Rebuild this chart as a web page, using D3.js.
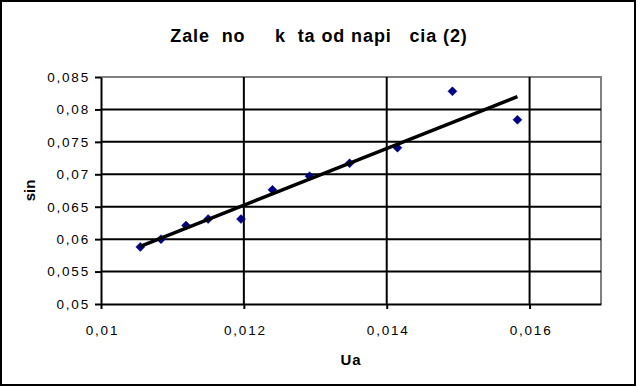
<!DOCTYPE html>
<html>
<head>
<meta charset="utf-8">
<script src="https://cdn.jsdelivr.net/npm/d3@7"></script>
<style>
  body { margin: 0; background: #fff; }
  text { font-family: 'Liberation Sans', Arial, sans-serif; }
</style>
</head>
<body>
<svg id="chart" width="637" height="387"></svg>
<script>
var ua = [ 0.01055, 0.01084, 0.01119, 0.0115, 0.01196, 0.0124, 0.01292, 0.01348, 0.01415, 0.01492, 0.01583 ];
var sinv = [ 0.0588, 0.0600, 0.0621, 0.0631, 0.0631, 0.0676, 0.0697, 0.0717, 0.0741, 0.0828, 0.0784 ];
var xTicks = [ 0.01, 0.012, 0.014, 0.016 ];
var yTicks = [ 0.05, 0.055, 0.06, 0.065, 0.07, 0.075, 0.08, 0.085 ];
var title = 'Zale  no     k  ta od napi   cia (2)';

var svg = d3.select( '#chart' ),
  margin = { top: 77, right: 36, bottom: 83, left: 101 },
  W = +svg.attr( 'width' ),
  H = +svg.attr( 'height' );

var fmt = d => String( d ).replace( '.', ',' );

var x = d3.scaleLinear()
  .domain( [ 0.01, 0.017 ] )
  .range( [ margin.left, W - margin.right ] );

var y = d3.scaleLinear()
  .domain( [ 0.05, 0.085 ] )
  .range( [ H - margin.bottom, margin.top ] );

// outer frame
svg.append( 'rect' )
  .attr( 'x', 1 ).attr( 'y', 1 )
  .attr( 'width', W - 3 ).attr( 'height', H - 3 )
  .style( 'fill', '#fff' )
  .style( 'stroke', '#000' )
  .style( 'stroke-width', 2 );

// plot border (gray top/right)
svg.append( 'path' )
  .attr( 'd', 'M' + x( 0.01 ) + ',' + y( 0.085 ) + 'H' + x( 0.017 ) + 'V' + y( 0.05 ) )
  .style( 'fill', 'none' )
  .style( 'stroke', '#808080' )
  .style( 'stroke-width', 2 );

// gridlines
svg.append( 'g' )
  .selectAll( 'line' )
  .data( yTicks.filter( d => d > 0.05 && d < 0.085 ) )
  .enter().append( 'line' )
    .attr( 'x1', x( 0.01 ) ).attr( 'x2', x( 0.017 ) )
    .attr( 'y1', d => y( d ) ).attr( 'y2', d => y( d ) )
    .style( 'stroke', '#000' )
    .style( 'stroke-width', 2 );

svg.append( 'g' )
  .selectAll( 'line' )
  .data( xTicks.filter( d => d > 0.01 ) )
  .enter().append( 'line' )
    .attr( 'x1', d => x( d ) ).attr( 'x2', d => x( d ) )
    .attr( 'y1', y( 0.085 ) ).attr( 'y2', y( 0.05 ) )
    .style( 'stroke', '#000' )
    .style( 'stroke-width', 2 );

// axes
var xAxis = svg.append( 'g' )
  .attr( 'transform', 'translate(0,' + y( 0.05 ) + ')' )
  .call( d3.axisBottom( x ).tickValues( xTicks ).tickFormat( fmt ).tickSize( 5 ).tickSizeOuter( 0 ) );

var yAxis = svg.append( 'g' )
  .attr( 'transform', 'translate(' + x( 0.01 ) + ',0)' )
  .call( d3.axisLeft( y ).tickValues( yTicks ).tickFormat( fmt ).tickSize( 6 ).tickSizeOuter( 0 ) );

[ xAxis, yAxis ].forEach( a => {
  a.select( '.domain' ).style( 'stroke', '#000' ).style( 'stroke-width', 2 );
  a.selectAll( '.tick line' ).style( 'stroke', '#000' ).style( 'stroke-width', 2 );
  a.selectAll( '.tick text' )
    .style( 'font-size', '13.5px' )
    .style( 'letter-spacing', '1.8px' )
    .style( 'fill', '#000' );
} );
xAxis.selectAll( '.tick text' ).attr( 'y', 21 ).attr( 'dx', 1 );
yAxis.selectAll( '.tick text' ).attr( 'x', -11 );

// trendline (least squares)
var mx = d3.mean( ua ), my = d3.mean( sinv );
var slope = d3.sum( ua, ( d, i ) => ( d - mx ) * ( sinv[ i ] - my ) ) / d3.sum( ua, d => ( d - mx ) * ( d - mx ) );
var x0 = d3.min( ua ), x1 = d3.max( ua );

// points
svg.append( 'g' )
  .selectAll( 'path' )
  .data( ua )
  .enter().append( 'path' )
    .attr( 'transform', ( d, i ) => 'translate(' + x( d ) + ',' + y( sinv[ i ] ) + ')' )
    .attr( 'd', 'M0,-4.5L4.5,0L0,4.5L-4.5,0Z' )
    .style( 'fill', '#000080' )
    .style( 'stroke', '#000080' )
    .style( 'stroke-width', 0.5 );

svg.append( 'line' )
  .attr( 'x1', x( x0 ) ).attr( 'y1', y( my + slope * ( x0 - mx ) ) )
  .attr( 'x2', x( x1 ) ).attr( 'y2', y( my + slope * ( x1 - mx ) ) )
  .style( 'stroke', '#000' )
  .style( 'stroke-width', 3.5 );

// titles
svg.append( 'text' )
  .attr( 'x', 319 )
  .attr( 'y', 42 )
  .attr( 'text-anchor', 'middle' )
  .style( 'font-size', '18px' )
  .style( 'font-weight', 'bold' )
  .style( 'letter-spacing', '0.9px' )
  .style( 'white-space', 'pre' )
  .text( title );

svg.append( 'text' )
  .attr( 'x', ( x( 0.01 ) + x( 0.017 ) ) / 2 )
  .attr( 'y', 365 )
  .attr( 'text-anchor', 'middle' )
  .style( 'font-size', '15px' )
  .style( 'font-weight', 'bold' )
  .style( 'letter-spacing', '1px' )
  .text( 'Ua' );

svg.append( 'text' )
  .attr( 'transform', 'translate(35,' + y( 0.0675 ) + ') rotate(-90)' )
  .attr( 'text-anchor', 'middle' )
  .style( 'font-size', '15px' )
  .style( 'font-weight', 'bold' )
  .text( 'sin' );
</script>
</body>
</html>
